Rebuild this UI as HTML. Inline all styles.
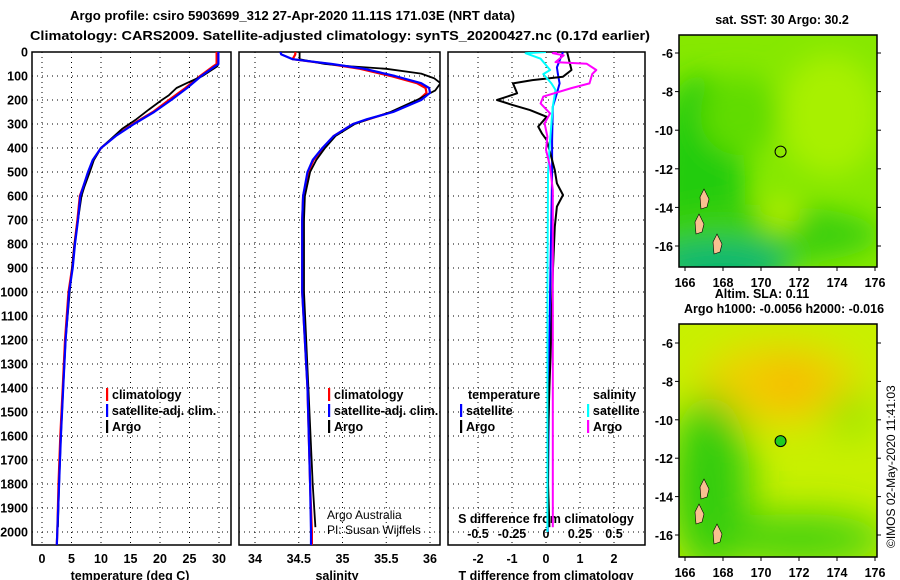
<!DOCTYPE html>
<html><head><meta charset="utf-8"><style>
html,body{margin:0;padding:0;background:#fff;}
svg{display:block;font-family:"Liberation Sans",Arial,sans-serif;}
.b{font-weight:bold;font-size:12.5px;}
</style></head><body>
<svg id="chart" width="900" height="580" viewBox="0 0 900 580">
<defs>
<filter id="blur1" x="-50%" y="-50%" width="200%" height="200%"><feGaussianBlur stdDeviation="14"/></filter>
<filter id="blur2" x="-50%" y="-50%" width="200%" height="200%"><feGaussianBlur stdDeviation="20"/></filter>
<clipPath id="cp1"><rect x="32" y="52" width="199" height="493"/></clipPath>
<clipPath id="cp2"><rect x="239" y="52" width="201" height="493"/></clipPath>
<clipPath id="cp3"><rect x="448" y="52" width="197" height="493"/></clipPath>
<clipPath id="cm1"><rect x="679" y="35" width="198" height="232"/></clipPath>
<clipPath id="cm2"><rect x="679" y="324" width="198" height="233"/></clipPath>
</defs>
<text x="70" y="20" textLength="445" lengthAdjust="spacingAndGlyphs" class="b" font-size="14.5">Argo profile: csiro 5903699_312 27-Apr-2020 11.11S 171.03E (NRT data)</text>
<text x="30" y="40" textLength="620" lengthAdjust="spacingAndGlyphs" class="b" font-size="14.5">Climatology: CARS2009. Satellite-adjusted climatology: synTS_20200427.nc (0.17d earlier)</text>
<g id="axes"></g>
<g id="series"></g>
<g id="maps"></g>
</svg>
<script>
// ---- data ----
const depthClimT = [0,50,60,100,150,200,250,300,350,400,450,500,600,700,800,900,1000,1200,1400,1600,1800,2000,2055];
const tempClim  = [29.6,29.6,29.0,26.8,24.3,21.5,18.8,15.4,12.4,10.0,8.7,7.9,6.4,6.0,5.5,5.1,4.5,3.9,3.5,3.1,2.8,2.6,2.5];
const tempSat   = [29.9,29.9,29.3,27.0,24.6,21.9,19.0,15.6,12.5,10.0,8.6,7.8,6.5,6.1,5.6,5.2,4.6,4.0,3.6,3.2,2.9,2.6,2.5];
const depthArgoT = [0,50,60,100,130,150,180,200,240,280,320,360,400,450,500,560,600,700,800,900,1000,1200,1400,1600,1800,1980];
const tempArgo  = [29.9,29.9,29.7,27.2,24.5,22.8,21.5,20.3,18.1,16.0,13.6,11.8,10.0,8.8,8.1,7.2,6.7,6.1,5.5,5.1,4.7,4.0,3.6,3.2,2.9,2.7];
const depthS = [0,10,30,50,70,100,130,150,170,200,250,280,300,350,400,450,500,600,700,1000,1400,1800,2000,2055];
const salClim = [34.46,34.46,34.43,34.85,35.2,35.55,35.85,35.95,35.96,35.87,35.56,35.3,35.12,34.9,34.78,34.67,34.61,34.55,34.54,34.54,34.6,34.63,34.65,34.65];
const salSat  = [34.29,34.30,34.43,34.88,35.25,35.6,35.9,35.99,36.0,35.9,35.58,35.28,35.12,34.9,34.77,34.66,34.6,34.55,34.54,34.54,34.6,34.63,34.64,34.64];
const depthArgoS = [0,30,50,60,70,90,110,130,160,200,250,280,300,350,400,450,500,600,700,1000,1400,1800,1980];
const salArgo = [34.51,34.51,34.8,35.1,35.5,35.9,36.05,36.12,36.06,35.85,35.55,35.3,35.14,34.92,34.8,34.7,34.63,34.57,34.56,34.56,34.61,34.66,34.69];
const depthDT = [0,75,103,117,131,172,200,220,242,270,311,339,367,408,492,547,596,644,728,922,1200,1400,1600,1800,1980];
const dTArgo = [0.62,0.75,0.5,-0.4,-0.97,-0.85,-1.44,-1.0,-0.47,0.02,-0.23,-0.12,0.02,0.1,0.26,0.32,0.5,0.32,0.26,0.2,0.15,0.1,0.06,0.06,0.1];
const depthDTs = [0,64,92,131,172,228,367,505,1000,1500,2000];
const dTSat = [0.5,0.32,0.35,0.4,0.32,0.2,0.18,0.18,0.12,0.08,0.05];
const depthDS = [0,5,28,75,92,131,158,228,367,505,1000,1500,2000];
const dSSat = [0.0,-0.15,-0.04,0.03,-0.02,0.04,0.07,0.05,0.03,0.015,0.01,0.01,0.01];
const depthDSa = [0,5,14,42,49,75,92,131,150,186,214,256,297,353,408,478,575,714,1000,1500,1980];
const dSArgo = [0.08,0.05,0.13,0.07,0.3,0.37,0.34,0.32,0.19,-0.02,-0.04,0.03,-0.01,0.01,0.0,0.03,0.05,0.05,0.05,0.05,0.05];
const depthTicks = [0,100,200,300,400,500,600,700,800,900,1000,1100,1200,1300,1400,1500,1600,1700,1800,1900,2000];
const tempTicks = [0,5,10,15,20,25,30];
const salTicks = [34,34.5,35,35.5,36];
const dTTicks = [-2,-1,0,1,2];
const dSTicks = [-0.5,-0.25,0,0.25,0.5];
const lonTicks = [166,168,170,172,174,176];
const latTicks = [-6,-8,-10,-12,-14,-16];

// ---- scales ----
const yD = d => 52 + d*0.24;
const xT = t => 42 + t*5.9;
const xS = s => 255 + (s-34)*87.5;
const xDT = v => 546 + v*34;
const xDS = v => 546 + v*136;
const xLon = l => 685 + (l-166)*19;
const yLat1 = l => 53 + (-6-l)*19.3;
const yLat2 = l => 343 + (-6-l)*19.2;

const NS="http://www.w3.org/2000/svg";
function mk(tag, attrs, parent, txt){const e=document.createElementNS(NS,tag);for(const k in attrs)e.setAttribute(k,attrs[k]);if(txt!==undefined)e.textContent=txt;parent.appendChild(e);return e;}
const axes=document.getElementById('axes'), series=document.getElementById('series'), maps=document.getElementById('maps');

const panels=[
 {x0:32,x1:231,ticks:tempTicks,sx:xT,name:'temperature-panel',title:'temperature (deg C)',tx:130},
 {x0:239,x1:440,ticks:salTicks,sx:xS,name:'salinity-panel',title:'salinity',tx:337},
 {x0:448,x1:645,ticks:dTTicks,sx:xDT,name:'difference-panel',title:'T difference from climatology',tx:546}
];
panels.forEach((p,i)=>{
  const g=mk('g',{},axes);
  
  
  depthTicks.forEach(d=>{
    if(d>0) mk('line',{x1:p.x0,x2:p.x1,y1:yD(d),y2:yD(d),stroke:'#000','stroke-width':1,'stroke-dasharray':'1,4'},g);
  });
  p.ticks.forEach(t=>{
    mk('line',{x1:p.sx(t),x2:p.sx(t),y1:52,y2:545,stroke:'#000','stroke-width':1,'stroke-dasharray':'1,4'},g);
    const lb=mk('text',{x:p.sx(t),y:563,'text-anchor':'middle',class:'b'},g,String(t));
    
    
  });
  mk('rect',{x:p.x0,y:52,width:p.x1-p.x0,height:493,fill:'none',stroke:'#000','stroke-width':1.5},g);
  const tt=mk('text',{x:p.tx,y:580,'text-anchor':'middle',class:'b'},g,p.title);
  
  
});
depthTicks.forEach(d=>{
  const t=mk('text',{x:28,y:yD(d)+4.5,'text-anchor':'end',class:'b'},axes,String(d));
  
  
});
dSTicks.forEach(v=>{
  const t=mk('text',{x:xDS(v),y:538,'text-anchor':'middle',class:'b'},axes,String(v));
  
  
});
{const t=mk('text',{x:546,y:523,'text-anchor':'middle',class:'b'},axes,'S difference from climatology');

}

function line(ds,vs,sx,color,clip,name,w){
  const pts=ds.map((d,i)=>sx(vs[i]).toFixed(1)+','+yD(d).toFixed(1)).join(' ');
  const e=mk('polyline',{points:pts,fill:'none',stroke:color,'stroke-width':w||2.2,'clip-path':'url(#'+clip+')','stroke-linejoin':'round'},series);
  
  
}
line(depthClimT,tempClim,xT,'#f00','cp1','temp-climatology-line');
line(depthArgoT,tempArgo,xT,'#000','cp1','temp-argo-line',1.8);
line(depthClimT,tempSat,xT,'#00f','cp1','temp-satellite-line');
line(depthS,salClim,xS,'#f00','cp2','sal-climatology-line');
line(depthArgoS,salArgo,xS,'#000','cp2','sal-argo-line',1.8);
line(depthS,salSat,xS,'#00f','cp2','sal-satellite-line');
line(depthDTs,dTSat,xDT,'#00f','cp3','dt-satellite-line',2);
line(depthDT,dTArgo,xDT,'#000','cp3','dt-argo-line',2);
line(depthDS,dSSat,xDS,'#0ff','cp3','ds-satellite-line',2);
line(depthDSa,dSArgo,xDS,'#f0f','cp3','ds-argo-line',2);

function legend(x,y,color,label,name){
  const g=mk('g',{},axes);
  
  
  mk('rect',{x:x,y:y-11,width:2.2,height:13,fill:color},g);
  mk('text',{x:x+6,y:y,class:'b'},g,label);
}
legend(106,399,'#f00','climatology','legend-climatology');
legend(106,415,'#00f','satellite-adj. clim.','legend-satellite-adj');
legend(106,431,'#000','Argo','legend-argo');
legend(328,399,'#f00','climatology','legend-climatology-2');
legend(328,415,'#00f','satellite-adj. clim.','legend-satellite-adj-2');
legend(328,431,'#000','Argo','legend-argo-2');
mk('text',{x:468,y:399,class:'b'},axes,'temperature');
mk('text',{x:593,y:399,class:'b'},axes,'salinity');
legend(460,415,'#00f','satellite','legend-t-satellite');
legend(460,431,'#000','Argo','legend-t-argo');
legend(587,415,'#0ff','satellite','legend-s-satellite');
legend(587,431,'#f0f','Argo','legend-s-argo');
mk('text',{x:327,y:519,'font-size':12},axes,'Argo Australia');
mk('text',{x:327,y:534,'font-size':12},axes,'PI: Susan Wijffels');

// ---- maps ----
function mapPanel(y0,h,yl,clip,isSST){
  const g=mk('g',{},maps);
  
  
  const c=mk('g',{'clip-path':'url(#'+clip+')'},g);
  if(isSST){
    mk('rect',{x:679,y:y0,width:198,height:h,fill:'#86e800'},c);
    const b=mk('g',{filter:'url(#blur1)'},c);
    mk('ellipse',{cx:700,cy:y0+150,rx:45,ry:110,fill:'#20cc10'},b);
    mk('ellipse',{cx:760,cy:y0+200,rx:120,ry:30,fill:'#3ed010'},b);
    mk('ellipse',{cx:720,cy:y0+230,rx:70,ry:25,fill:'#10b870'},b);
    mk('ellipse',{cx:830,cy:y0+80,rx:50,ry:60,fill:'#a8f000'},b);
    mk('ellipse',{cx:780,cy:y0+180,rx:20,ry:15,fill:'#b8f000'},b);
    mk('ellipse',{cx:740,cy:y0+80,rx:40,ry:40,fill:'#60dc00'},b);
  } else {
    mk('rect',{x:679,y:y0,width:198,height:h,fill:'#c8f000'},c);
    const b=mk('g',{filter:'url(#blur2)'},c);
    mk('ellipse',{cx:780,cy:y0+60,rx:80,ry:40,fill:'#f0d000'},b);
    mk('ellipse',{cx:790,cy:y0+60,rx:30,ry:20,fill:'#f8b800'},b);
    mk('ellipse',{cx:710,cy:y0+160,rx:40,ry:90,fill:'#30cc10'},b);
    mk('ellipse',{cx:800,cy:y0+215,rx:90,ry:25,fill:'#40d010'},b);
    mk('ellipse',{cx:850,cy:y0+90,rx:25,ry:20,fill:'#90e400'},b);
  }
  [[695,y0+h-45],[713,y0+h-25],[700,y0+h-70]].forEach(p=>{
    mk('path',{d:`M${p[0]},${p[1]} l4,-8 l5,10 l-2,8 l-6,2 z`,fill:'#f8c090',stroke:'#000','stroke-width':0.6},c);
  });
  mk('rect',{x:679,y:y0,width:198,height:h,fill:'none',stroke:'#000','stroke-width':1.5},g);
  latTicks.forEach(l=>{
    mk('line',{x1:675,x2:679,y1:yl(l),y2:yl(l),stroke:'#000'},g);
    mk('line',{x1:877,x2:881,y1:yl(l),y2:yl(l),stroke:'#000'},g);
    const t=mk('text',{x:673,y:yl(l)+5,'text-anchor':'end',class:'b'},g,String(l));
    
    
  });
  lonTicks.forEach(l=>{
    mk('line',{x1:xLon(l),x2:xLon(l),y1:y0+h,y2:y0+h+4,stroke:'#000'},g);
    const t=mk('text',{x:xLon(l),y:y0+h+20,'text-anchor':'middle',class:'b'},g,String(l));
    
    
  });
  mk('circle',{cx:xLon(171.03),cy:yl(-11.11),r:5.5,fill:isSST?'none':'#20cc20',stroke:'#000','stroke-width':1},g);
}
mapPanel(35,232,yLat1,'cm1',true);
mapPanel(324,233,yLat2,'cm2',false);
mk('text',{x:782,y:24,'text-anchor':'middle',class:'b'},maps,'sat. SST: 30 Argo: 30.2');
mk('text',{x:762,y:298,'text-anchor':'middle',class:'b'},maps,'Altim. SLA: 0.11');
mk('text',{x:784,y:313,'text-anchor':'middle',class:'b'},maps,'Argo h1000: -0.0056 h2000: -0.016');
mk('text',{x:0,y:0,'font-size':12,transform:'translate(895,548) rotate(-90)'},maps,'©IMOS 02-May-2020 11:41:03');
</script>
</body></html>
